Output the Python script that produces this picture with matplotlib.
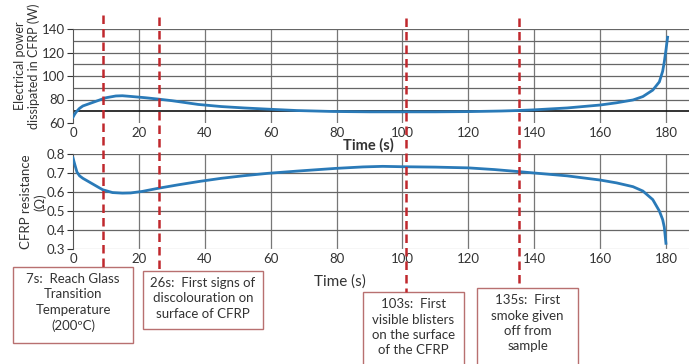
import matplotlib
matplotlib.use("Agg")
import matplotlib.pyplot as plt
import matplotlib.transforms as mtransforms
from matplotlib.patches import Rectangle
from matplotlib.lines import Line2D

plt.rcParams['font.family'] = ['Lato', 'DejaVu Sans']

# ---- data ----
power_t = [0, 0.5, 1, 2, 3, 5, 8, 10, 13, 15, 18, 22, 26, 30, 38, 45, 52, 59, 68,
           79, 90, 100, 110, 120, 130, 135, 140, 150, 160, 165, 170, 173, 176,
           178, 179, 179.5, 180, 180.5]
power_w = [65, 67.5, 69.5, 72.5, 74.5, 76.5, 79.5, 81.5, 83, 83.2, 82.5, 81.5, 80.3,
           79, 75.8, 74, 72.8, 71.8, 70.6, 69.8, 69.5, 69.5, 69.5, 69.7, 70.2,
           70.6, 71.2, 72.8, 75.3, 77.2, 79.6, 82.5, 88, 95, 104, 112, 122, 133]

res_t = [0, 0.3, 0.7, 1.2, 2, 3, 5, 7, 9, 12, 15, 17.5, 21, 26, 32, 38.5, 45, 52,
         59, 68, 79.5, 88, 94, 100, 110, 120, 128, 135.5, 140, 150, 160, 165, 170,
         173, 176, 178, 179, 179.5, 180]
res_ohm = [0.78, 0.76, 0.735, 0.705, 0.685, 0.672, 0.652, 0.632, 0.612, 0.597, 0.594,
           0.595, 0.603, 0.62, 0.638, 0.656, 0.672, 0.686, 0.698, 0.71, 0.724,
           0.732, 0.735, 0.733, 0.731, 0.727, 0.718, 0.707, 0.70, 0.685, 0.663,
           0.648, 0.628, 0.605, 0.56, 0.5, 0.455, 0.415, 0.33]

event_t = [9, 26, 101, 135.5]
event_labels = [
    "7s:  Reach Glass\nTransition\nTemperature\n(200\u00baC)",
    "26s:  First signs of\ndiscolouration on\nsurface of CFRP",
    "103s:  First\nvisible blisters\non the surface\nof the CFRP",
    "135s:  First\nsmoke given\noff from\nsample",
]

x_ticks = [0, 20, 40, 60, 80, 100, 120, 140, 160, 180]
power_ticks = [60, 80, 100, 120, 140]
res_ticks = [0.3, 0.4, 0.5, 0.6, 0.7, 0.8]

# ---- figure ----
W, H = 689, 364
fig = plt.figure(figsize=(W / 100, H / 100), dpi=100)

def fx(px):
    return px / W

def fy(py):
    return 1 - py / H

blue = "#2a7ab8"
red = "#c0282d"
tick_fs = 9.5

ax1 = fig.add_axes([fx(73), fy(123), fx(689) - fx(73), fy(29) - fy(123)])
ax2 = fig.add_axes([fx(73), fy(249), fx(689) - fx(73), fy(154) - fy(249)])

for ax in (ax1, ax2):
    ax.set_xlim(0, 187)
    ax.set_xticks(x_ticks)
    for s in ("top", "right", "bottom"):
        ax.spines[s].set_visible(False)
    ax.spines["left"].set_color("#555555")
    ax.tick_params(axis="x", length=0, labelsize=tick_fs, colors="#333333", pad=3)
    ax.tick_params(axis="y", length=4, width=0.8, labelsize=tick_fs, colors="#333333", pad=2)
    for t in x_ticks[1:]:
        ax.axvline(t, color="#777777", lw=0.9, zorder=1)

# top axes
ax1.set_ylim(60, 140)
ax1.set_yticks(power_ticks)
for v in range(80, 141, 10):
    ax1.axhline(v, color="#666666", lw=0.9, zorder=1)
ax1.axhline(70, color="#111111", lw=1.2, zorder=1)
ax1.plot(power_t, power_w, color=blue, lw=2.0, zorder=3)

# bottom axes
ax2.set_ylim(0.3, 0.8)
ax2.set_yticks(res_ticks)
ax2.set_yticklabels([f"{v:.1f}" for v in res_ticks])
for v in res_ticks:
    ax2.axhline(v, color="#666666" if v > 0.3 else "#bbbbbb", lw=0.9, zorder=1)
ax2.plot(res_t, res_ohm, color=blue, lw=2.0, zorder=3)

# axis titles
fig.text(fx(368), fy(145), "Time (s)", ha="center", va="center", fontsize=10.5,
         fontweight="bold", color="#333333")
fig.text(fx(340), fy(282), "Time (s)", ha="center", va="center", fontsize=11,
         color="#333333")
fig.text(fx(27), fy(66), "Electrical power\ndissipated in CFRP (W)", rotation=90,
         ha="center", va="center", multialignment="center", fontsize=9,
         color="#333333", linespacing=1.15)
fig.text(fx(33), fy(202), "CFRP resistance\n(\u03a9)", rotation=90,
         ha="center", va="center", multialignment="center", fontsize=9.5,
         color="#333333", linespacing=1.15)

# event boxes (pixel layout)
boxes = [(13, 267, 133, 343), (143, 271, 263, 329), (363, 292, 464, 372), (477, 288, 578, 372)]
line_tops = [15, 17, 18, 18]
trans = mtransforms.blended_transform_factory(ax1.transData, fig.transFigure)
for t, lab, (x0, y0, x1, y1), ytop in zip(event_t, event_labels, boxes, line_tops):
    fig.add_artist(Line2D([t, t], [fy(ytop), fy(y0)], transform=trans, color=red,
                          lw=1.8, linestyle=(0, (3.4, 2.0)), zorder=5))
    fig.add_artist(Rectangle((fx(x0), fy(y1)), fx(x1) - fx(x0), fy(y0) - fy(y1),
                             transform=fig.transFigure, facecolor="white",
                             edgecolor="#b87070", lw=1.0, zorder=4))
    ytext = y0 + 6
    fig.text((fx(x0) + fx(x1)) / 2, fy(ytext), lab, ha="center", va="top",
             multialignment="center", fontsize=9.5, color="#333333",
             linespacing=1.35, zorder=6)

fig.savefig("out.png", dpi=100, facecolor="white")
